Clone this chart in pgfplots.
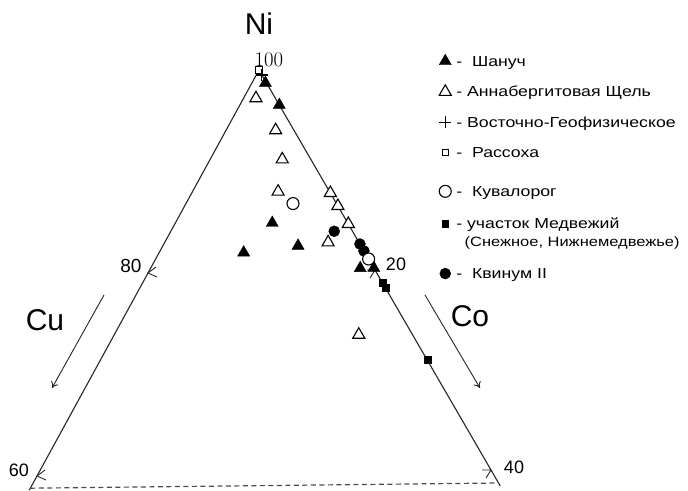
\documentclass[border=0pt]{standalone}
\usepackage{fontspec}
\setmainfont{Liberation Sans}
\newfontfamily\legendfont[FakeStretch=1.22]{Liberation Sans}
\usepackage{pgfplots}
\pgfplotsset{compat=1.18}
\usepackage{pgfplotstable}
\usetikzlibrary{arrows.meta}

% Compositions in the Ni--Cu--Co system (Ni + Cu + Co = 100)
\pgfplotstableread{
Ni   Cu   Co
98.7 0.1  1.2
96.5 0.0  3.5
84.8 6.6  8.6
81.9 10.6 7.5
82.5 5.5  12.0
80.2 1.2  18.6
80.2 0.0  19.8
}\shanuch
\pgfplotstableread{
Ni   Cu   Co
97.2 1.7  1.1
94.0 1.6  4.4
91.1 2.5  6.4
87.9 4.5  7.6
87.7 0.0  12.3
86.4 0.0  13.6
84.6 0.0  15.4
82.8 2.7  14.5
73.6 4.7  21.7
}\annaberg
\pgfplotstableread{
Ni   Cu   Co
99.5 0.0  0.5
}\vostochno
\pgfplotstableread{
Ni    Cu  Co
100.0 0.0 0.0
}\rassokha
\pgfplotstableread{
Ni   Cu   Co
86.7 3.8  9.5
81.1 0.0  18.9
}\kuvalorog
\pgfplotstableread{
Ni   Cu   Co
78.7 0.0  21.3
78.2 0.0  21.8
71.0 0.0  29.0
}\medvezhiy
\pgfplotstableread{
Ni   Cu   Co
83.9 1.6  14.5
82.6 0.0  17.4
81.9 0.0  18.1
}\kvinum
% triangle frame: left side (Co = 0), apex, right side (Cu = 0)
\pgfplotstableread{
Ni    Cu    Co
58.6  41.4  0.0
100.0 0.0   0.0
58.4  0.0   41.6
}\frameTbl
\pgfplotstableread{
Ni    Cu    Co
58.8  41.2  0.0
58.7  0.0   41.3
}\baseTbl

% ternary -> page position
\newcommand\ternx{259-5.55*\thisrow{Cu}+5.8*\thisrow{Co}}
\newcommand\terny{70+10.15*\thisrow{Cu}+10*\thisrow{Co}}

\begin{document}
\begin{tikzpicture}
\begin{axis}[
  scale only axis, width=688pt, height=490pt,
  xmin=0, xmax=688, ymin=0, ymax=490, y dir=reverse,
  axis line style={draw=none}, xtick=\empty, ytick=\empty,
  clip=false,
  legend style={at={(axis cs:436,52)}, anchor=north west, draw=none, fill=none,
    font=\legendfont\fontsize{14.5}{17.5}\selectfont, row sep=14.5pt,
    cells={anchor=base west}},
  legend image post style={yshift=5pt},
]
% frame
\addplot[black!85, line width=1.1pt, forget plot] table[x expr=\ternx, y expr=\terny] {\frameTbl};
\addplot[black!70, line width=1.2pt, dash pattern=on 5pt off 3.5pt, forget plot] table[x expr=\ternx, y expr=\terny] {\baseTbl};

% scale ticks
\draw[black!85, line width=0.9pt] (axis cs:156,267) -- (axis cs:148,273) -- (axis cs:157,277);
\draw[black!85, line width=0.9pt] (axis cs:45,470) -- (axis cs:37,476) -- (axis cs:46,480);
\draw[black!85, line width=0.9pt] (axis cs:367,270) -- (axis cs:375,270) -- (axis cs:370,278);
\draw[black!85, line width=0.9pt] (axis cs:482,470) -- (axis cs:491,470) -- (axis cs:486,478);

% direction arrows
\draw[black!85, line width=0.9pt, -{To[length=6pt,width=8pt]}] (axis cs:104,295) -- (axis cs:52,388);
\draw[black!85, line width=0.9pt, -{To[length=6pt,width=8pt]}] (axis cs:425,295) -- (axis cs:480,388);

% labels
\node[font=\fontsize{30}{32}\selectfont] at (axis cs:259,24) {Ni};
\node[font=\fontsize{30}{32}\selectfont] at (axis cs:45,320) {Cu};
\node[font=\fontsize{30}{32}\selectfont] at (axis cs:470,316) {Co};
\node[font=\fontsize{21}{23}\selectfont] at (axis cs:269,60) {$100$};
\node[font=\fontsize{19}{21}\selectfont] at (axis cs:131,266) {80};
\node[font=\fontsize{18}{20}\selectfont] at (axis cs:396,264) {20};
\node[font=\fontsize{18}{20}\selectfont] at (axis cs:19,470) {60};
\node[font=\fontsize{18}{20}\selectfont] at (axis cs:514,467) {40};

% data
\addplot[only marks, mark=triangle*, mark size=7pt, mark options={fill=white, draw=black, line width=1.1pt}, forget plot]
  table[x expr=\ternx, y expr=\terny] {\annaberg};
\addplot[only marks, mark=triangle*, mark size=7pt, mark options={fill=black, draw=black}, forget plot]
  table[x expr=\ternx, y expr=\terny] {\shanuch};
\addplot[only marks, mark=*, mark size=5.5pt, mark options={fill=black, draw=black}, forget plot]
  table[x expr=\ternx, y expr=\terny] {\kvinum};
\addplot[only marks, mark=*, mark size=6pt, mark options={fill=white, draw=black, line width=1.1pt}, forget plot]
  table[x expr=\ternx, y expr=\terny] {\kuvalorog};
\addplot[only marks, mark=square*, mark size=3.5pt, mark options={fill=black, draw=black}, forget plot]
  table[x expr=\ternx, y expr=\terny] {\medvezhiy};
\addplot[only marks, mark=square*, mark size=3.5pt, mark options={fill=white, draw=black, line width=1pt}, forget plot]
  table[x expr=\ternx, y expr=\terny] {\rassokha};
\addplot[only marks, mark=+, mark size=6pt, mark options={draw=black, line width=1.1pt}, forget plot]
  table[x expr=\ternx, y expr=\terny] {\vostochno};

% legend
\addlegendimage{only marks, mark=triangle*, mark size=7pt, mark options={fill=black, draw=black}}
\addlegendentry{\hspace{3pt}-\ \ Шануч}
\addlegendimage{only marks, mark=triangle*, mark size=7pt, mark options={fill=white, draw=black, line width=1.1pt}}
\addlegendentry{\hspace{3pt}- Аннабергитовая Щель}
\addlegendimage{only marks, mark=+, mark size=6pt, mark options={draw=black, line width=1.1pt}}
\addlegendentry{\hspace{3pt}- Восточно-Геофизическое}
\addlegendimage{only marks, mark=square*, mark size=3.2pt, mark options={fill=white, draw=black, line width=1pt}}
\addlegendentry{\hspace{3pt}-\ \ Рассоха}
\addlegendimage{only marks, mark=*, mark size=6pt, mark options={fill=white, draw=black, line width=1.1pt}}
\addlegendentry{\rule{0pt}{19pt}\hspace{3pt}-\ \ Кувалорог}
\addlegendimage{only marks, mark=square*, mark size=3.2pt, mark options={fill=black, draw=black}}
\addlegendentry{\begin{tabular}[t]{@{}l@{}}\hspace{3pt}-\ участок Медвежий\\\hspace{3pt}\phantom{-\,}{\fontsize{13.5}{17.5}\selectfont(Снежное, Нижнемедвежье)}\end{tabular}}
\addlegendimage{only marks, mark=*, mark size=5.5pt, mark options={fill=black, draw=black}}
\addlegendentry{\rule{0pt}{30pt}\hspace{3pt}-\ \ Квинум II}
\end{axis}
\pgfresetboundingbox
\path (current axis.south west) rectangle (current axis.north east);
\end{tikzpicture}
\end{document}
